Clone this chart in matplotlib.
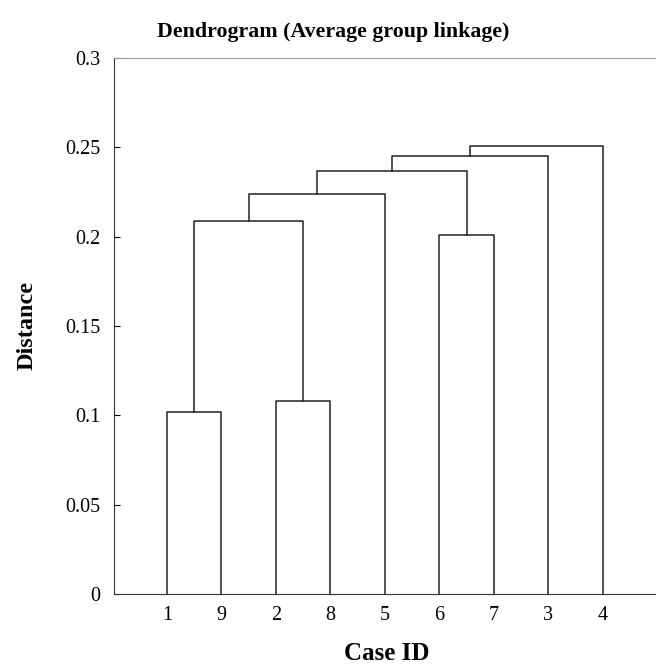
import matplotlib.pyplot as plt

# hojas en el orden del dendrograma
leaves = ["1", "9", "2", "8", "5", "6", "7", "3", "4"]
# uniones: (cluster a, cluster b, distancia); los clusters nuevos se numeran desde 9
merges = [
    (0, 1, 0.102),
    (2, 3, 0.108),
    (5, 6, 0.201),
    (9, 10, 0.209),
    (12, 4, 0.224),
    (13, 11, 0.237),
    (14, 7, 0.245),
    (15, 8, 0.251),
]
yticks = [0, 0.05, 0.1, 0.15, 0.2, 0.25, 0.3]
ytick_labels = ["0", "0.05", "0.1", "0.15", "0.2", "0.25", "0.3"]

plt.rcParams['font.family'] = ['Liberation Serif', 'DejaVu Serif']

fig = plt.figure(figsize=(6.56, 6.65), dpi=100)
ax = fig.add_axes([0.1738, 0.1068, 0.8308, 0.806])

pos = {i: i + 1 for i in range(len(leaves))}
hgt = {i: 0.0 for i in range(len(leaves))}
nid = len(leaves)
for a, b, d in merges:
    xa, xb = pos[a], pos[b]
    ax.plot([xa, xa, xb, xb], [hgt[a], d, d, hgt[b]], color="#222222", lw=1.1)
    pos[nid] = (xa + xb) / 2
    hgt[nid] = d
    nid += 1

ax.set_xlim(0.03, 10.03)
ax.set_ylim(0, 0.3)
ax.set_xticks(range(1, len(leaves) + 1))
ax.set_xticklabels(leaves)
ax.set_yticks(yticks)
ax.set_yticklabels(ytick_labels)
ax.tick_params(axis="x", length=0, labelsize=14.5, pad=9)
ax.tick_params(axis="y", direction="in", length=4, labelsize=14.5, pad=10)
ax.spines["right"].set_visible(False)
ax.spines["top"].set_color("#999999")
ax.spines["left"].set_color("#333333")
ax.spines["bottom"].set_color("#333333")

ax.set_title("Dendrogram (Average group linkage)", fontsize=15.75, fontweight="bold",
             pad=15, x=0.402)
ax.set_xlabel("Case ID", fontsize=18, fontweight="bold", labelpad=12)
ax.set_ylabel("Distance", fontsize=17.5, fontweight="bold", labelpad=20)

fig.savefig("out.png", dpi=100)
